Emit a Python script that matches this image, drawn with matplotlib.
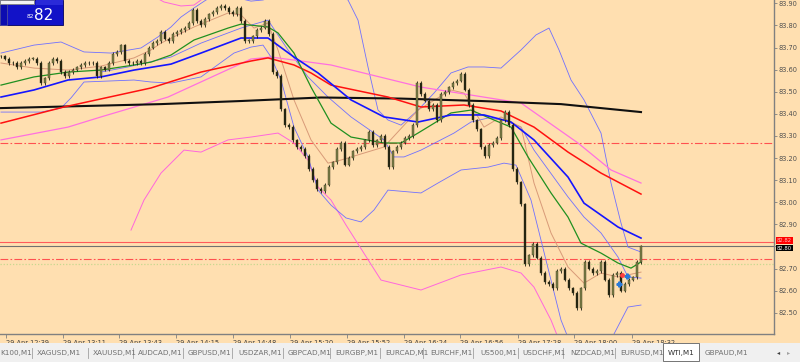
import matplotlib
matplotlib.use("Agg")
import matplotlib.pyplot as plt
from matplotlib.patches import Rectangle
import numpy as np

# ---------------- data ----------------
closes = [
83.66, 83.65, 83.63, 83.63, 83.61, 83.63, 83.64, 83.65, 83.65, 83.63,
83.54, 83.56, 83.63, 83.65, 83.64, 83.59, 83.57, 83.59, 83.60, 83.61,
83.62, 83.63, 83.63, 83.63, 83.57, 83.61, 83.60, 83.63, 83.67, 83.68,
83.71, 83.64, 83.63, 83.63, 83.64, 83.63, 83.67, 83.70, 83.72, 83.73,
83.77, 83.74, 83.73, 83.76, 83.77, 83.78, 83.79, 83.81, 83.87, 83.82,
83.80, 83.83, 83.85, 83.86, 83.88, 83.89, 83.88, 83.86, 83.85, 83.88,
83.82, 83.73, 83.73, 83.75, 83.78, 83.79, 83.82, 83.76, 83.59, 83.57,
83.42, 83.35, 83.34, 83.28, 83.25, 83.24, 83.21, 83.15, 83.10, 83.06,
83.05, 83.08, 83.16, 83.18, 83.24, 83.27, 83.17, 83.20, 83.23, 83.24,
83.25, 83.28, 83.32, 83.26, 83.28, 83.30, 83.25, 83.16, 83.23, 83.25,
83.27, 83.29, 83.30, 83.35, 83.54, 83.49, 83.46, 83.42, 83.44, 83.37,
83.49, 83.50, 83.52, 83.54, 83.55, 83.58, 83.51, 83.44, 83.37, 83.33,
83.25, 83.21, 83.26, 83.27, 83.29, 83.37, 83.41, 83.35, 83.15, 83.09,
82.99, 82.72, 82.76, 82.81, 82.75, 82.68, 82.64, 82.63, 82.61, 82.69,
82.70, 82.65, 82.61, 82.59, 82.52, 82.61, 82.73, 82.70, 82.68, 82.69,
82.73, 82.65, 82.58, 82.67, 82.68, 82.60, 82.63, 82.65, 82.66, 82.73,
82.80]

black_t = [0, 20, 40, 60, 80, 100, 120, 140, 160]
black_v = [83.426, 83.435, 83.444, 83.458, 83.474, 83.469, 83.458, 83.444, 83.408]

red_t = [0, 15.75, 37.5, 50, 62.5, 66.75, 73.25, 77.5, 82.5, 96.75, 105, 115.75, 125, 133.25, 141.75, 150, 160]
red_v = [83.358, 83.431, 83.517, 83.589, 83.639, 83.653, 83.621, 83.585, 83.530, 83.476, 83.431, 83.440, 83.413, 83.340, 83.227, 83.132, 83.037]

pink_t = [0, 16.75, 25, 41.75, 62.5, 67.5, 82.5, 105, 130, 144.25, 152.5, 160]
pink_v = [83.282, 83.340, 83.386, 83.476, 83.648, 83.657, 83.621, 83.521, 83.449, 83.268, 83.146, 83.087]

blue_t = [0, 8.25, 16.75, 25, 33.25, 42.5, 50, 60, 66.75, 73.25, 79.25, 87.5, 95.75, 104.25, 112.5, 120.75, 127.5, 133.25, 141.75, 145.75, 154.25, 160]
blue_v = [83.476, 83.508, 83.553, 83.567, 83.598, 83.625, 83.675, 83.743, 83.743, 83.657, 83.585, 83.463, 83.386, 83.363, 83.395, 83.395, 83.363, 83.282, 83.114, 82.996, 82.888, 82.838]

green_t = [0, 8.25, 16.75, 25, 33.25, 37.5, 42.5, 48.25, 56.75, 60, 66.75, 69.25, 73.25, 77.5, 82.5, 87.5, 95.75, 100, 104.25, 112.5, 117.5, 123.25, 127.5, 131.75, 137.5, 141.75, 145, 150, 154.25, 157.5, 160]
green_v = [83.530, 83.567, 83.589, 83.598, 83.621, 83.634, 83.666, 83.734, 83.788, 83.806, 83.793, 83.766, 83.675, 83.521, 83.358, 83.295, 83.268, 83.268, 83.313, 83.404, 83.417, 83.372, 83.340, 83.205, 83.042, 82.933, 82.815, 82.770, 82.725, 82.702, 82.730]

brown_t = [0, 8.25, 16.75, 25, 33.25, 37.5, 40, 48.25, 56.75, 60, 63.25, 66.75, 69.25, 73.25, 77.5, 81.75, 85, 95.75, 104.25, 112.5, 115.75, 120.75, 125, 130, 133.25, 137.5, 141.75, 145.75, 150, 154.25, 160]
brown_v = [83.630, 83.607, 83.598, 83.616, 83.653, 83.689, 83.720, 83.793, 83.856, 83.847, 83.788, 83.811, 83.689, 83.463, 83.282, 83.177, 83.191, 83.250, 83.417, 83.508, 83.494, 83.340, 83.386, 83.340, 83.087, 82.861, 82.707, 82.634, 82.680, 82.662, 82.684]

bandA_t = [0, 8.25, 15, 20.75, 27.5, 35, 39.25, 42.5, 45, 48.25, 51.25, 55, 62.5, 65.5, 70, 77.5, 85, 86.75, 89.25, 91.75, 94.25, 96.75, 100, 104.25, 108.25, 112.5, 116.75, 120.75, 125, 130, 133.75, 137, 139.5, 142.5, 145.75, 150, 152.5, 155, 156.75, 160]
bandA_v = [83.675, 83.711, 83.725, 83.680, 83.675, 83.698, 83.748, 83.793, 83.838, 83.879, 83.915, 83.942, 83.910, 83.915, 83.942, 83.960, 83.929, 83.915, 83.824, 83.612, 83.417, 83.372, 83.349, 83.417, 83.494, 83.585, 83.612, 83.612, 83.607, 83.689, 83.757, 83.788, 83.689, 83.553, 83.463, 83.313, 83.087, 82.906, 82.797, 82.775]

bandB_t = [25, 31.75, 42.5, 50, 60, 66.75, 71.75, 76.75, 81.75, 87.5, 95.75, 98.25, 100.75, 105, 113.25, 117.5, 121.75, 125.75, 130, 133.25, 141.75, 145.75, 150, 154.25, 156.75, 160]
bandB_v = [83.589, 83.612, 83.657, 83.720, 83.788, 83.824, 83.689, 83.567, 83.476, 83.386, 83.282, 83.205, 83.205, 83.236, 83.313, 83.363, 83.381, 83.372, 83.340, 83.236, 83.024, 82.933, 82.861, 82.752, 82.662, 82.657]

bandC_t = [0, 10, 15, 17.5, 20.75, 33.25, 37.5, 42.5, 50, 58.25, 62.5, 65.5, 67.5, 70, 73.25, 76.75, 79.25, 82.5, 86.25, 90, 93.25, 96.75, 105, 109.25, 115, 121.75, 125.75, 128.75, 132.5, 136.25, 140, 142.5, 150, 153.25, 156.75, 160]
bandC_v = [83.408, 83.408, 83.426, 83.472, 83.544, 83.553, 83.544, 83.539, 83.567, 83.675, 83.702, 83.711, 83.657, 83.553, 83.340, 83.205, 83.055, 82.987, 82.929, 82.911, 82.965, 83.055, 83.042, 83.087, 83.146, 83.159, 83.177, 83.168, 83.010, 82.738, 82.467, 82.354, 82.331, 82.404, 82.526, 82.535]

env_lo_t = [32.5, 35.75, 40, 45.75, 50, 56.75, 62.5, 69.25, 73.25, 76.75, 79.25, 82.5, 86.25, 95, 105, 115, 125, 130, 133.25, 137.5, 140]
env_lo_v = [82.874, 83.010, 83.132, 83.236, 83.227, 83.282, 83.295, 83.313, 83.268, 83.191, 83.069, 83.010, 82.897, 82.648, 82.603, 82.671, 82.707, 82.680, 82.616, 82.467, 82.354]

env_hi_t = [37.5, 40.75, 45, 48.25, 50, 52.5]
env_hi_v = [83.938, 83.906, 83.888, 83.892, 83.915, 83.951]

level_dashdot = [83.269, 82.743]
level_dotted = 82.721
ask_price = 82.82
bid_price = 82.80

yticks = [83.90, 83.80, 83.70, 83.60, 83.50, 83.40, 83.30, 83.20, 83.10, 83.00,
          82.90, 82.80, 82.70, 82.60, 82.50]
xtick_labels = ["29 Apr 12:39", "29 Apr 13:11", "29 Apr 13:43", "29 Apr 14:15",
                "29 Apr 14:48", "29 Apr 15:20", "29 Apr 15:52", "29 Apr 16:24",
                "29 Apr 16:56", "29 Apr 17:28", "29 Apr 18:00", "29 Apr 18:32"]
xtick_pos = [1.25, 15.5, 29.5, 43.75, 58, 72.25, 86.5, 100.75, 114.75, 129.25, 143.25, 157.75]

tabs = ["K100,M1", "XAGUSD,M1", "XAUUSD,M1", "AUDCAD,M1", "GBPUSD,M1", "USDZAR,M1",
        "GBPCAD,M1", "EURGBP,M1", "EURCAD,M1", "EURCHF,M1", "US500,M1", "USDCHF,M1",
        "NZDCAD,M1", "EURUSD,M1", "WTI,M1", "GBPAUD,M1"]
active_tab = "WTI,M1"

# ---------------- figure ----------------
BG = "#ffdfb0"
W, H = 800, 362
fig = plt.figure(figsize=(W / 100, H / 100), dpi=100, facecolor=BG)
ax = fig.add_axes([0, 28 / H, 774 / W, 334 / H])
ax.set_facecolor(BG)
ax.set_xlim(-0.25, 193.25)
ax.set_ylim(82.404, 83.915)

# horizontal levels
for lv in level_dashdot:
    ax.axhline(lv, color="#ff5050", lw=0.8, dashes=(7, 2, 1.5, 2), zorder=1)
ax.axhline(level_dotted, color="#c8d890", lw=0.9, ls=(0, (1, 1.5)), zorder=1)
ax.axhline(ask_price, color="#ff5a5a", lw=0.8, zorder=1)
ax.axhline(bid_price, color="#707070", lw=0.8, zorder=1)

# indicator lines
def line(t, v, c, lw, z=3):
    ax.plot(t, v, color=c, lw=lw, zorder=z, solid_joinstyle="round")

line(env_lo_t, env_lo_v, "#ff66dd", 0.7, 2)
line(env_hi_t, env_hi_v, "#ff66dd", 0.7, 2)
line(bandA_t, bandA_v, "#7070ff", 0.6, 2)
line(bandB_t, bandB_v, "#7070ff", 0.6, 2)
line(bandC_t, bandC_v, "#7070ff", 0.6, 2)
line(brown_t, brown_v, "#d89a78", 0.7, 2)
line(pink_t, pink_v, "#ff70e0", 0.9, 3)
line(black_t, black_v, "#101010", 1.5, 3)
line(red_t, red_v, "#ff1010", 1.1, 3)
line(green_t, green_v, "#209020", 0.9, 3)
line(blue_t, blue_v, "#1515ff", 1.2, 3)

# candles
opens = [closes[0]] + closes[:-1]
for i, (o, c) in enumerate(zip(opens, closes)):
    lo, hi = min(o, c), max(o, c)
    ax.vlines(i, lo - 0.008, hi + 0.008, color="#1a1a10", lw=0.6, zorder=4)
    col = "#7d8048" if c >= o else "#20200e"
    ax.add_patch(Rectangle((i - 0.3, lo), 0.6, max(hi - lo, 0.002),
                           facecolor=col, edgecolor="#3a3a20", lw=0.3, zorder=5))

# trade markers
ax.plot([154.5, 156.5], [82.63, 82.665], ls="none", marker="P", ms=3.5,
        color="#2a7ad8", zorder=6)
ax.plot([155.3], [82.672], ls="none", marker="o", ms=2.5, color="#ff4040", zorder=6)

# axes styling
for s in ["top", "left"]:
    ax.spines[s].set_visible(False)
for s in ["right", "bottom"]:
    ax.spines[s].set_color("#808080")
    ax.spines[s].set_linewidth(1.0)
ax.yaxis.tick_right()
ax.set_yticks(yticks)
ax.set_yticklabels([f"{v:.2f}" for v in yticks])
ax.tick_params(axis="y", direction="out", length=2.5, width=0.6, colors="#808080",
               labelsize=4.8, labelcolor="#505050", pad=1)
ax.set_xticks(xtick_pos)
ax.set_xticklabels(xtick_labels, ha="left")
ax.tick_params(axis="x", direction="out", length=3, width=0.6, colors="#808080",
               labelsize=4.8, labelcolor="#404040", pad=1)
for lab in ax.get_xticklabels():
    lab.set_horizontalalignment("left")

# price labels on right axis (drawn over the 82.80 tick label, as in the terminal)
def price_tag(p, fc, tc, dy):
    ax.annotate(f"{p:.2f}", xy=(1.0, p), xycoords=("axes fraction", "data"),
                xytext=(2, dy), textcoords="offset points", fontsize=3.8,
                color=tc, va="center", ha="left",
                bbox=dict(boxstyle="square,pad=0.15", fc=fc, ec="none"), zorder=10,
                annotation_clip=False)

price_tag(ask_price, "#ff0000", "#ffc0c0", 1.2)
price_tag(bid_price, "#000000", "#ffffff", -1.2)
# hide the plain 82.80 tick label that sits under the bid tag
for lab, v in zip(ax.get_yticklabels(), yticks):
    if abs(v - bid_price) < 1e-6:
        lab.set_visible(False)

# ---------------- top-left trading panel ----------------
def fx(px):
    return px / W

def fy(py):
    return 1 - py / H

fig.add_artist(Rectangle((fx(0), fy(25)), fx(63), 25 / H, transform=fig.transFigure,
                         facecolor="#1212c8", edgecolor="#000060", lw=0.6, zorder=20))
fig.add_artist(Rectangle((fx(0), fy(25)), fx(6.5), 25 / H, transform=fig.transFigure,
                         facecolor="#0c0cb0", edgecolor="#5050a0", lw=0.6, zorder=21))
fig.add_artist(Rectangle((fx(0), fy(4)), fx(34), 4 / H, transform=fig.transFigure,
                         facecolor="#f4f4f4", edgecolor="#808080", lw=0.6, zorder=22))
fig.add_artist(Rectangle((fx(36), fy(4.5)), fx(27), 4.5 / H, transform=fig.transFigure,
                         facecolor="#2a2ad8", edgecolor="none", zorder=22))
fig.text(fx(30), fy(16.5), "82", fontsize=4.2, color="white", ha="center",
         va="center", zorder=23)
fig.text(fx(44), fy(15.5), "82", fontsize=11, color="white", ha="center",
         va="center", zorder=23)

# ---------------- bottom tab bar ----------------
fig.add_artist(Rectangle((0, 0), 1, 19 / H, transform=fig.transFigure,
                         facecolor="#f0f0f0", edgecolor="none", zorder=20))
tab_x = [0, 37, 93, 138, 188, 238, 288, 335, 385, 430, 480, 522, 570, 620, 668, 705]
sep_x = [32, 88, 133, 183, 232, 283, 330, 380, 423, 473, 518, 563, 615]
for t, x in zip(tabs, tab_x):
    fig.text(fx(x), fy(353), t, fontsize=5.2, color="#303030" if t == active_tab else "#707070",
             ha="left", va="center", zorder=23)
for x in sep_x:
    fig.add_artist(plt.Line2D([fx(x), fx(x)], [fy(358), fy(348)], transform=fig.transFigure,
                              color="#a0a0a0", lw=0.6, zorder=22))
fig.add_artist(Rectangle((fx(663), fy(361)), fx(36), 18 / H, transform=fig.transFigure,
                         facecolor="white", edgecolor="#606060", lw=0.6, zorder=21))
fig.text(fx(779), fy(353), "\u25c2", fontsize=4.5, color="#404040", ha="center",
         va="center", zorder=23)
fig.text(fx(789), fy(353), "\u25b8", fontsize=4.5, color="#a0a0a0", ha="center",
         va="center", zorder=23)

fig.savefig("out.png", dpi=100, facecolor=BG)
